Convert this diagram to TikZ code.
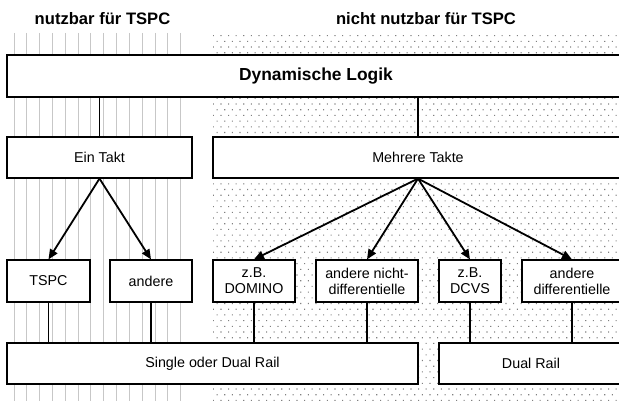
\documentclass[tikz,border=0pt]{standalone}
\usepackage{fontspec}
\setmainfont{Liberation Sans}
\usetikzlibrary{arrows.meta,patterns}
\pgfdeclarepatternformonly{mydots}{\pgfqpoint{-1pt}{-1pt}}{\pgfqpoint{9pt}{12pt}}{\pgfqpoint{7.6pt}{11.4pt}}{%
  \pgfpathrectangle{\pgfqpoint{0pt}{0pt}}{\pgfqpoint{1.1pt}{1.1pt}}%
  \pgfpathrectangle{\pgfqpoint{3.8pt}{5.7pt}}{\pgfqpoint{1.1pt}{1.1pt}}%
  \pgfusepath{fill}}
\tikzset{
  box/.style={draw=black, line width=1.2pt, fill=white, rectangle, inner sep=0pt,
    minimum height=42pt, align=center, font=\fontsize{14.3}{16}\selectfont},
  head/.style={font=\fontsize{16.6}{18}\selectfont\bfseries},
  conn/.style={line width=1.8pt},
  arr/.style={line width=1.8pt, -{Triangle[length=10pt,width=8.5pt]}},
  hatch/.style={draw=black!22, line width=1pt}
}
\begin{document}
\begin{tikzpicture}[x=1pt,y=-1pt]
\useasboundingbox (0,0) rectangle (619,401);
\clip (0,0) rectangle (619,401);
% background
\foreach \k in {0,...,13} {\draw[hatch] (14+12.83*\k,33) -- (14+12.83*\k,401);}
\fill[pattern=mydots, pattern color=black!50] (213,33) rectangle (619,401);
% headings
\node[head] (h1) at (102.5,19) {nutzbar für TSPC};
\node[head] (h2) at (426,19) {nicht nutzbar für TSPC};
% boxes
\node[box, minimum width=618pt, font=\fontsize{17.4}{19}\selectfont\bfseries] (dyn) at (316,76) {Dynamische Logik};
\node[box, minimum width=185pt, minimum height=41pt] (ein) at (99.5,157.5) {Ein Takt};
\node[box, minimum width=410pt, minimum height=41pt] (meh) at (418,157.5) {Mehrere Takte};
\node[box, minimum width=83pt] (tspc) at (48.5,281) {TSPC};
\node[box, minimum width=82pt] (and) at (151,281) {andere};
\node[box, minimum width=82pt] (dom) at (254,281) {z.B.\\DOMINO};
\node[box, minimum width=102pt] (nd) at (367,281) {andere nicht-\\differentielle};
\node[box, minimum width=62pt] (dcvs) at (470,281) {z.B.\\DCVS};
\node[box, minimum width=100pt] (diff) at (572,281) {andere\\differentielle};
\node[box, minimum width=411pt, minimum height=41pt] (sodr) at (212.5,363.5) {Single oder Dual Rail};
\node[box, minimum width=184pt, minimum height=41pt] (dr) at (531,363.5) {Dual Rail};
% connectors
\draw[conn] (ein.north) -- (ein.north |- dyn.south);
\draw[conn] (meh.north) -- (meh.north |- dyn.south);
\draw[arr] (ein.south) -- (tspc.north);
\draw[arr] (ein.south) -- (and.north);
\draw[arr] (meh.south) -- (dom.north);
\draw[arr] (meh.south) -- (nd.north);
\draw[arr] (meh.south) -- (dcvs.north);
\draw[arr] (meh.south) -- (diff.north);
\draw[conn] (tspc.south) -- (tspc.south |- sodr.north);
\draw[conn] (and.south) -- (and.south |- sodr.north);
\draw[conn] (dom.south) -- (dom.south |- sodr.north);
\draw[conn] (nd.south) -- (nd.south |- sodr.north);
\draw[conn] (dcvs.south) -- (dcvs.south |- dr.north);
\draw[conn] (diff.south) -- (diff.south |- dr.north);
\end{tikzpicture}
\end{document}
